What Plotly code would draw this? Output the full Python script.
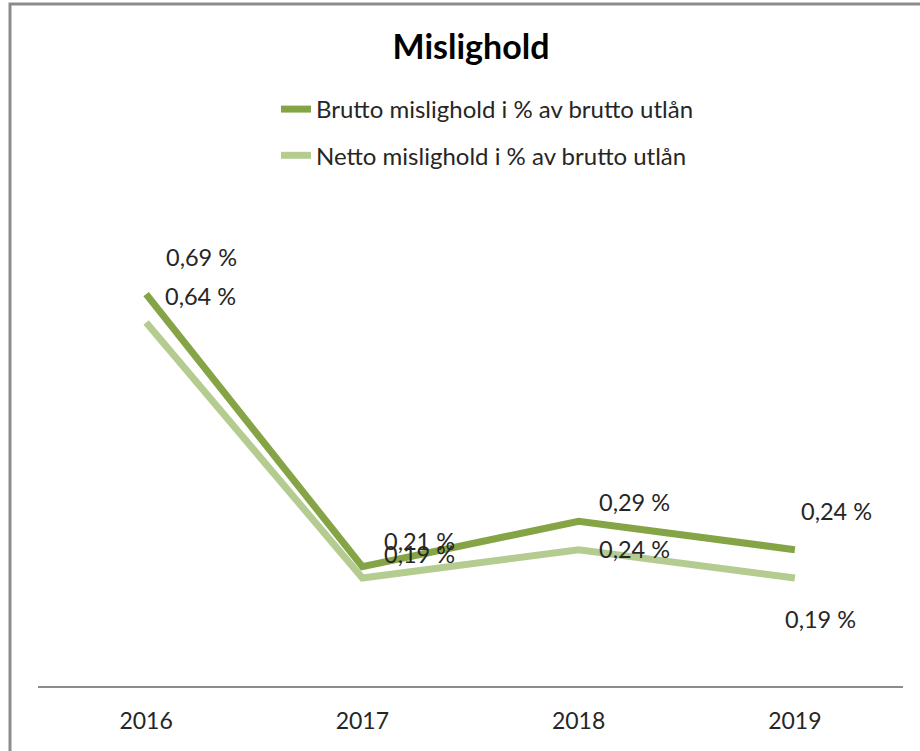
import plotly.graph_objects as go

years = ["2016", "2017", "2018", "2019"]
brutto = [0.69, 0.21, 0.29, 0.24]
netto = [0.64, 0.19, 0.24, 0.19]
brutto_labels = ["0,69 %", "0,21 %", "0,29 %", "0,24 %"]
netto_labels = ["0,64 %", "0,19 %", "0,24 %", "0,19 %"]
brutto_name = "Brutto mislighold i % av brutto utlån"
netto_name = "Netto mislighold i % av brutto utlån"

# label offsets in pixels (dx, dy-down) relative to the point
brutto_off = [(55, -37), (57, -26), (56, -19), (42, -39)]
netto_off = [(54, -26), (57, -24), (56, -1), (26, 41)]

dark = "#84A446"
light = "#B4CC90"
txt = "#262626"
FONT = "Lato, sans-serif"

fig = go.Figure()
fig.add_trace(go.Scatter(x=years, y=brutto, mode="lines", name=brutto_name,
                         line=dict(color=dark, width=7), legendgroup="a",
                         hoverinfo="skip"))
fig.add_trace(go.Scatter(x=years, y=netto, mode="lines", name=netto_name,
                         line=dict(color=light, width=7), legendgroup="b",
                         hoverinfo="skip"))

# category axis: annotation x given as category index
for i, (y, t, (dx, dy)) in enumerate(zip(brutto, brutto_labels, brutto_off)):
    fig.add_annotation(x=i, y=y, xref="x", yref="y", text=t, showarrow=False,
                       xshift=dx, yshift=-dy,
                       font=dict(size=23.5, color=txt, family=FONT))
for i, (y, t, (dx, dy)) in enumerate(zip(netto, netto_labels, netto_off)):
    fig.add_annotation(x=i, y=y, xref="x", yref="y", text=t, showarrow=False,
                       xshift=dx, yshift=-dy,
                       font=dict(size=23.5, color=txt, family=FONT))

# plot area: x 38..903, y 118..686 (pixels)
L, R, T, B = 38, 903, 118, 686
W, H = 920, 751
def px2paper_x(px):
    return (px - L) / (R - L)
def px2paper_y(py):
    return (B - py) / (B - T)

fig.update_layout(
    width=W, height=H,
    margin=dict(l=L, r=W - R, t=T, b=H - B, autoexpand=False),
    paper_bgcolor="white", plot_bgcolor="white",
    font=dict(family=FONT, color=txt),
    title=dict(text="<b>Mislighold</b>", x=471 / W, xanchor="center",
               y=1 - 47 / H, yanchor="middle",
               font=dict(size=34, color="#000000", family=FONT)),
    showlegend=True,
    legend=dict(x=px2paper_x(276), y=px2paper_y(87), xanchor="left", yanchor="top",
                font=dict(size=24, color=txt, family=FONT),
                itemwidth=30, tracegroupgap=12, traceorder="grouped",
                bgcolor="rgba(0,0,0,0)"),
    xaxis=dict(type="category", range=[-0.5, 3.5], showline=True,
               linecolor="#8C8C8C", linewidth=2, ticks="", showgrid=False,
               zeroline=False, ticklabelstandoff=13,
               tickfont=dict(size=23, color=txt, family=FONT), fixedrange=True),
    yaxis=dict(range=[0, 1], showticklabels=False, showline=False, ticks="",
               showgrid=False, zeroline=False, fixedrange=True),
    shapes=[dict(type="rect", xref="paper", yref="paper",
                 x0=px2paper_x(10), x1=px2paper_x(930),
                 y0=px2paper_y(770), y1=px2paper_y(4),
                 line=dict(color="#8C8C8C", width=3), fillcolor="rgba(0,0,0,0)",
                 layer="below")],
)

fig.write_html("out.html", config={"displayModeBar": False},
               post_script="document.body.style.margin='0px';document.body.style.overflow='hidden';")
